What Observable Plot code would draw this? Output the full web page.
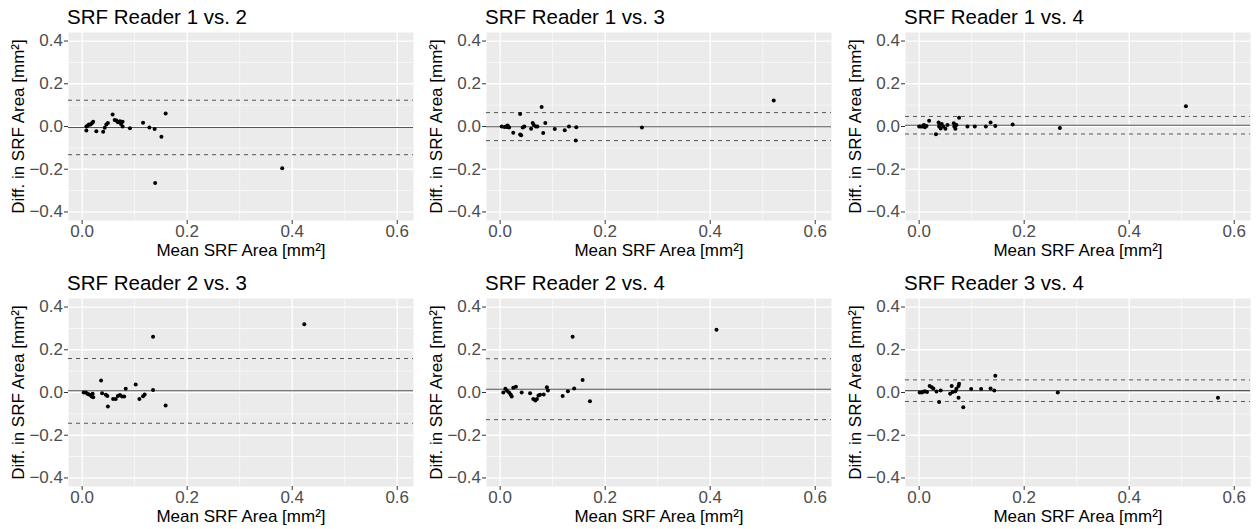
<!DOCTYPE html>
<html><head><meta charset="utf-8">
<script src="https://cdn.jsdelivr.net/npm/d3@7"></script>
<script src="https://cdn.jsdelivr.net/npm/@observablehq/plot@0.6"></script>
<style>
body{margin:0;background:#fff;font-family:"Liberation Sans",Arial,sans-serif;}
#root{position:relative;width:1256px;height:529px;overflow:hidden;}
.panel{position:absolute;width:418px;height:264px;}
.title{position:absolute;left:67px;top:5px;font-size:20.5px;color:#000;white-space:nowrap;}
.panel svg{position:absolute;left:0;top:0;}
</style></head><body><div id="root"></div>
<script>
const titles = ["SRF Reader 1 vs. 2","SRF Reader 1 vs. 3","SRF Reader 1 vs. 4","SRF Reader 2 vs. 3","SRF Reader 2 vs. 4","SRF Reader 3 vs. 4"];
const xLabel = "Mean SRF Area [mm²]";
const yLabel = "Diff. in SRF Area [mm²]";
const xTicks = [0, 0.2, 0.4, 0.6];
const xMinor = [0.1, 0.3, 0.5];
const yTicks = [-0.4, -0.2, 0, 0.2, 0.4];
const yMinor = [-0.3, -0.1, 0.1, 0.3];

const mean12 = [0.008,0.008,0.011,0.013,0.016,0.019,0.021,0.027,0.040,0.043,0.046,0.049,0.058,0.062,0.065,0.068,0.072,0.074,0.077,0.077,0.091,0.116,0.128,0.138,0.151,0.159,0.139,0.381];
const diff12 = [-0.019,0,0.005,0.009,0.009,0.016,0.022,-0.022,-0.025,-0.006,0.009,0.016,0.056,0.031,0.028,0.020,0.025,0.012,0.022,0,-0.008,0.017,-0.005,-0.012,-0.048,0.061,-0.265,-0.195];
const mean13 = [0.003,0.008,0.011,0.013,0.014,0.016,0.017,0.025,0.038,0.038,0.040,0.043,0.046,0.059,0.062,0.064,0.068,0.071,0.079,0.082,0.086,0.104,0.123,0.131,0.145,0.144,0.270,0.521];
const diff13 = [0,-0.002,0,-0.002,0.005,-0.002,-0.005,-0.029,0.059,-0.037,-0.041,-0.005,0,-0.010,0.016,0.007,0,0,0.091,-0.030,0.016,-0.012,-0.018,0,-0.004,-0.066,-0.005,0.122];
const mean14 = [0.000,0.003,0.006,0.009,0.011,0.014,0.019,0.032,0.037,0.038,0.039,0.041,0.043,0.046,0.050,0.054,0.066,0.067,0.069,0.071,0.076,0.092,0.106,0.127,0.136,0.145,0.178,0.268,0.508];
const diff14 = [0,0,0,0.007,-0.004,0.002,0.027,-0.036,0.019,0,0.009,-0.009,0.012,0,-0.010,0.007,0.015,0,-0.010,0.007,0.041,0,0,0,0.019,0.002,0.009,-0.007,0.095];
const mean23 = [0.003,0.007,0.010,0.013,0.016,0.018,0.020,0.021,0.036,0.038,0.045,0.048,0.049,0.059,0.064,0.068,0.072,0.076,0.080,0.083,0.102,0.109,0.116,0.119,0.135,0.135,0.159,0.423];
const diff23 = [0,0,-0.006,-0.009,-0.012,-0.019,-0.006,-0.022,0.056,-0.003,-0.011,-0.016,-0.066,-0.031,-0.031,-0.016,-0.012,-0.019,-0.019,0.017,0.037,-0.030,-0.017,-0.009,0.012,0.261,-0.061,0.320];
const mean24 = [0.006,0.010,0.013,0.017,0.020,0.022,0.025,0.030,0.041,0.057,0.063,0.067,0.070,0.073,0.076,0.083,0.089,0.091,0.119,0.129,0.138,0.141,0.157,0.171,0.412];
const diff24 = [0,0.017,0.008,0,-0.009,-0.019,0.022,0.027,0,-0.003,-0.030,-0.037,-0.030,-0.014,-0.011,-0.009,0.025,0.009,-0.016,0.006,0.261,0.019,0.059,-0.041,0.294];
const mean34 = [0.001,0.005,0.008,0.011,0.015,0.020,0.024,0.027,0.033,0.038,0.041,0.059,0.062,0.064,0.069,0.071,0.075,0.076,0.075,0.084,0.099,0.118,0.136,0.143,0.145,0.264,0.569];
const diff34 = [0,0,0.003,0.006,0.002,0.031,0.025,0.019,0.005,-0.044,0.009,-0.006,0.031,0.002,0.006,0.017,0.031,0.041,-0.025,-0.069,0.016,0.016,0.019,0.009,0.078,0,-0.025];

const means = [mean12, mean13, mean14, mean23, mean24, mean34];
const diffs = [diff12, diff13, diff14, diff23, diff24, diff34];
const bias = [-0.005, -0.001, 0.006, 0.008, 0.015, 0.009];
const upperLoA = [0.123, 0.065, 0.047, 0.159, 0.158, 0.059];
const lowerLoA = [-0.132, -0.066, -0.035, -0.144, -0.127, -0.042];

const colX = [0, 418, 837];
const rowY = [0, 266];
const fmt = d3.format(".1f");
const root = document.getElementById("root");

for (let i = 0; i < 6; i++) {
  const data = means[i].map((m, j) => ({m, d: diffs[i][j]}));
  const div = document.createElement("div");
  div.className = "panel";
  div.style.left = colX[i % 3] + "px";
  div.style.top = rowY[Math.floor(i / 3)] + "px";
  const chart = Plot.plot({
    width: 418, height: 264,
    marginLeft: 68, marginRight: 5, marginTop: 32, marginBottom: 44,
    style: {fontFamily: "Liberation Sans, Arial, sans-serif", background: "transparent", overflow: "visible"},
    x: {domain: [-0.026, 0.631], label: null},
    y: {domain: [-0.44, 0.44], label: null},
    marks: [
      Plot.frame({fill: "#EBEBEB", stroke: null}),
      Plot.ruleX(xMinor, {stroke: "white", strokeWidth: 0.6}),
      Plot.ruleY(yMinor, {stroke: "white", strokeWidth: 0.6}),
      Plot.ruleX(xTicks, {stroke: "white", strokeWidth: 1.3}),
      Plot.ruleY(yTicks, {stroke: "white", strokeWidth: 1.3}),
      Plot.axisX(xTicks, {tickSize: 4, tickPadding: 0, fontSize: 17, fill: "#4D4D4D", stroke: "#333333", tickFormat: fmt, label: null}),
      Plot.axisY(yTicks, {tickSize: 4, tickPadding: 1.5, fontSize: 17, fill: "#4D4D4D", stroke: "#333333", tickFormat: fmt, label: null}),
      Plot.ruleY([bias[i]], {stroke: "#555555", strokeWidth: 1.1}),
      Plot.ruleY([upperLoA[i], lowerLoA[i]], {stroke: "#555555", strokeWidth: 1, strokeDasharray: "4,4"}),
      Plot.dot(data, {x: "m", y: "d", r: 2, fill: "black", stroke: null}),
      Plot.text([xLabel], {text: d => d, frameAnchor: "bottom", dy: 23, fontSize: 17, fill: "black", lineAnchor: "top", textAnchor: "middle"}),
      Plot.text([yLabel], {text: d => d, frameAnchor: "left", dx: -50, rotate: -90, fontSize: 17, fill: "black", lineAnchor: "middle", textAnchor: "middle"})
    ]
  });
  div.appendChild(chart);
  const t = document.createElement("div");
  t.className = "title";
  t.textContent = titles[i];
  div.appendChild(t);
  root.appendChild(div);
}
</script></body></html>
